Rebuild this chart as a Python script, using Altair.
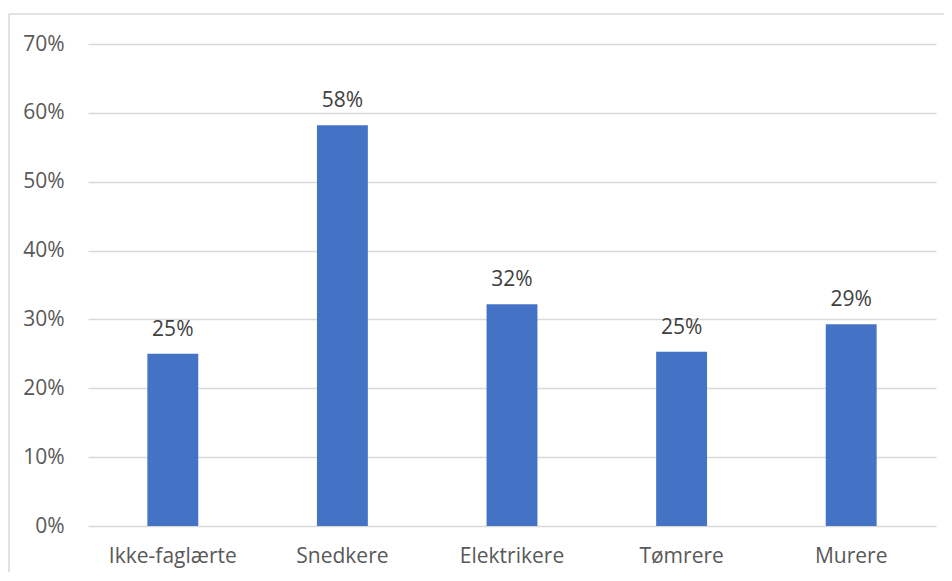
import altair as alt
import pandas as pd

categories = ["Ikke-faglærte", "Snedkere", "Elektrikere", "Tømrere", "Murere"]
values = [0.250, 0.582, 0.322, 0.253, 0.293]

df = pd.DataFrame({"kategori": categories, "andel": values})

FONT = "Open Sans"
FS = 21
W, H = 848, 482

base = alt.Chart(df)

x = alt.X("kategori:N", sort=categories, title=None,
          scale=alt.Scale(paddingInner=0.7, paddingOuter=0.35),
          axis=alt.Axis(labelAngle=0, labelFontSize=FS, labelColor="#595959",
                        labelFont=FONT, labelPadding=19, ticks=False, domain=False,
                        grid=False))
y = alt.Y("andel:Q", title=None,
          scale=alt.Scale(domain=[0, 0.7], nice=False),
          axis=alt.Axis(format=".0%", values=[0, 0.1, 0.2, 0.3, 0.4, 0.5, 0.6, 0.7],
                        labelFontSize=FS, labelColor="#595959", labelFont=FONT,
                        labelPadding=24, ticks=False, domain=False,
                        gridColor="#d9d9d9", gridWidth=1.3))

bars = base.mark_bar(color="#4472c4").encode(x=x, y=y)
labels = base.mark_text(dy=-18, baseline="alphabetic", fontSize=FS, color="#404040",
                        font=FONT).encode(
    x=alt.X("kategori:N", sort=categories),
    y=alt.Y("andel:Q"),
    text=alt.Text("andel:Q", format=".0%"))

frame_df = pd.DataFrame({"k": [0]})
frame_left = alt.Chart(frame_df).mark_rule(color="#d9d9d9", strokeWidth=1.5).encode(
    x=alt.value(-79), x2=alt.value(-79), y=alt.value(-30), y2=alt.value(H + 60))
frame_top = alt.Chart(frame_df).mark_rule(color="#d9d9d9", strokeWidth=1.5).encode(
    x=alt.value(-79), x2=alt.value(W + 30), y=alt.value(-30), y2=alt.value(-30))

chart = alt.layer(bars, labels, frame_left, frame_top).properties(
    width=W, height=H,
    background="white",
    autosize=alt.AutoSizeParams(type="none"),
    padding={"left": 80, "top": 36, "right": 8, "bottom": 46},
).configure_view(strokeWidth=0, stroke="transparent")

chart.save("out.html", embed_options={"renderer": "svg", "actions": False})
